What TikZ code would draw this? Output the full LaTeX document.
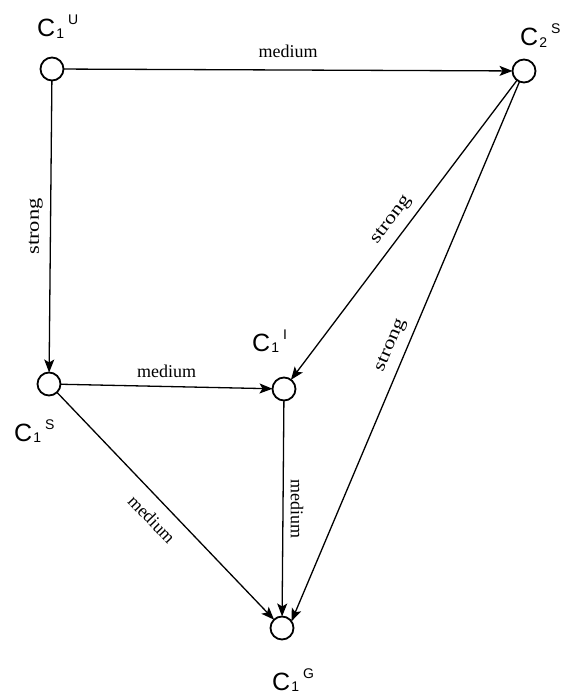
\documentclass[tikz,border=0pt]{standalone}
\usepackage{fontspec}
\setmainfont{Liberation Serif}
\newfontfamily\labfont{Liberation Sans}
\newfontfamily\wideserif[FakeStretch=1.25]{Liberation Serif}
\usepackage{tikz}
\usetikzlibrary{arrows.meta}
\usetikzlibrary{positioning}
\tikzset{
ring/.style = {circle, draw, line width=1.8pt, minimum size=#1,
               inner sep=0pt, outer sep=0pt},
ring/.default = 23pt, % diameter of the circle
clabel/.style = {font=\labfont\fontsize{25}{26}\selectfont,
                 inner sep=0pt, anchor=base west},
elabel/.style = {font=\fontsize{18}{20}\selectfont, inner sep=8pt},
slabel/.style = {elabel, font=\wideserif\fontsize{18}{20}\selectfont},
infl/.style = {line width=1.3pt, -{Stealth[length=13pt,width=10pt,inset=3pt]}}
}
\newcommand{\cname}[2]{C\kern1pt\raisebox{-1.5pt}{\fontsize{14}{14}\selectfont #1}\kern4pt\raisebox{12pt}{\fontsize{14}{14}\selectfont #2}}
\newcommand{\concept}[2]{\node[ring] (#1) at (#2) {};}
\newcommand{\clab}[4]{\node[clabel] (#1) at (#2) {\cname{#3}{#4}};}

\begin{document}
\begin{tikzpicture}[x=1pt, y=-1pt]
    \useasboundingbox (0,0) rectangle (564,695);

    \concept{U}{52,69}
    \concept{C2S}{524,71}
    \concept{S}{49,384}
    \concept{I}{284,389}
    \concept{G}{282,628}

    \clab{Ulab}{37,37}{1}{U}
    \clab{C2Slab}{520,46}{2}{S}
    \clab{Slab}{14,441}{1}{S}
    \clab{Ilab}{252,351}{1}{I}
    \clab{Glab}{272,690}{1}{G}

    \draw[infl] (U) -- node[elabel, above, inner sep=12pt] {medium} (C2S);
    \draw[infl] (U) -- node[slabel, rotate=90, above, inner sep=7pt] {strong} (S);
    \draw[infl] (C2S) -- node[slabel, sloped, above] {strong} (I);
    \draw[infl] (C2S) -- node[slabel, sloped, above] {strong} (G.35);
    \draw[infl] (S) -- node[elabel, above] {medium} (I);
    \draw[infl] (S) -- node[elabel, sloped, below, inner sep=12pt] {medium} (G);
    \draw[infl] (I) -- node[elabel, rotate=-90, above, inner sep=7pt] {medium} (G);
\end{tikzpicture}
\end{document}
